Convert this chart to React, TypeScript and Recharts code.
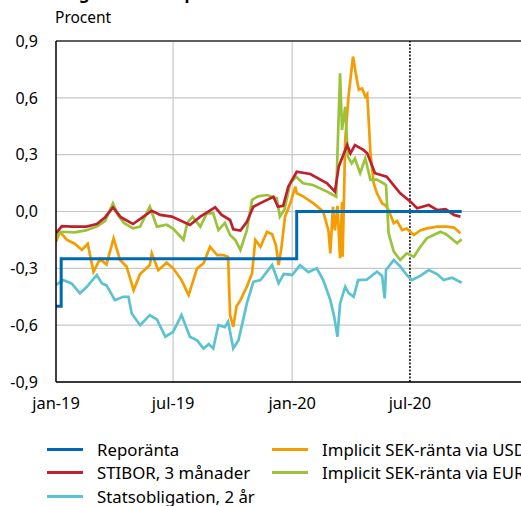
import React from "react";
import { CartesianGrid, Line, LineChart, ReferenceLine, XAxis, YAxis } from "recharts";

// days since 2019-01-01
const repoDays = [0, 8, 372, 627];
const repoValues = [-0.5, -0.25, 0, 0];

const stiborDays = [0, 9, 25, 47, 63, 76, 88, 100, 119, 134, 148, 161, 179, 207, 223, 246, 256, 269, 274, 285, 295, 305, 315, 336, 343, 351, 359, 372, 393, 419, 431, 437, 450, 455, 462, 475, 481, 493, 511, 532, 548, 558, 576, 589, 602, 615, 625];
const stiborValues = [-0.114, -0.077, -0.08, -0.08, -0.066, -0.03, 0.022, -0.03, -0.066, -0.03, 0.004, -0.018, -0.027, -0.071, -0.027, 0.022, -0.018, -0.045, -0.094, -0.101, -0.054, 0.025, 0.043, 0.078, 0.025, 0.03, 0.131, 0.21, 0.198, 0.149, 0.105, 0.237, 0.351, 0.307, 0.351, 0.325, 0.307, 0.202, 0.184, 0.096, 0.052, 0.017, 0.034, 0.008, 0.012, -0.018, -0.027];

const bondDays = [0, 11, 24, 37, 47, 63, 71, 78, 91, 104, 112, 117, 130, 145, 156, 169, 181, 194, 207, 218, 228, 236, 243, 251, 261, 266, 274, 282, 295, 305, 316, 334, 344, 352, 365, 377, 390, 403, 413, 424, 430, 435, 439, 447, 452, 460, 467, 480, 496, 504, 508, 510, 522, 532, 542, 550, 563, 576, 589, 599, 612, 627];
const bondValues = [-0.388, -0.362, -0.38, -0.432, -0.4, -0.335, -0.38, -0.39, -0.468, -0.45, -0.45, -0.538, -0.6, -0.547, -0.57, -0.661, -0.635, -0.547, -0.661, -0.68, -0.723, -0.7, -0.723, -0.6, -0.61, -0.582, -0.723, -0.68, -0.485, -0.371, -0.362, -0.283, -0.379, -0.33, -0.335, -0.283, -0.32, -0.3, -0.362, -0.468, -0.556, -0.661, -0.485, -0.397, -0.43, -0.45, -0.362, -0.36, -0.318, -0.34, -0.459, -0.309, -0.256, -0.29, -0.335, -0.362, -0.34, -0.309, -0.33, -0.362, -0.35, -0.376];

const usdDays = [0, 6, 17, 29, 40, 49, 58, 68, 78, 89, 99, 109, 120, 130, 145, 148, 158, 171, 181, 194, 205, 218, 228, 238, 249, 259, 266, 269, 274, 279, 285, 295, 303, 308, 316, 326, 334, 340, 344, 348, 354, 362, 370, 372, 382, 398, 413, 421, 424, 428, 431, 435, 439, 442, 443, 447, 452, 459, 465, 468, 473, 478, 481, 486, 491, 496, 504, 510, 514, 522, 527, 535, 542, 553, 563, 573, 589, 604, 615, 625];
const usdValues = [-0.16, -0.107, -0.15, -0.17, -0.203, -0.17, -0.318, -0.25, -0.28, -0.142, -0.256, -0.29, -0.415, -0.33, -0.283, -0.221, -0.31, -0.27, -0.3, -0.362, -0.441, -0.3, -0.274, -0.186, -0.23, -0.23, -0.24, -0.547, -0.609, -0.5, -0.468, -0.397, -0.327, -0.15, -0.186, -0.107, -0.12, -0.18, -0.283, -0.2, -0.027, 0.043, 0.131, 0.096, 0.08, 0.043, 0, -0.1, -0.221, 0.025, -0.1, 0.03, -0.247, 0.05, -0.239, 0.378, 0.606, 0.818, 0.695, 0.642, 0.65, 0.606, 0.62, 0.307, 0.149, 0.096, 0.043, 0.03, 0.008, -0.062, -0.05, -0.098, -0.09, -0.124, -0.1, -0.089, -0.08, -0.08, -0.085, -0.115];

const eurDays = [0, 9, 29, 46, 63, 76, 88, 96, 105, 119, 130, 145, 156, 171, 181, 197, 203, 211, 223, 233, 243, 251, 261, 269, 277, 285, 295, 303, 312, 326, 341, 346, 353, 362, 371, 382, 397, 419, 433, 435, 439, 442, 447, 451, 457, 462, 470, 478, 486, 495, 506, 510, 514, 522, 532, 542, 553, 563, 573, 594, 603, 620, 627];
const eurValues = [-0.13, -0.107, -0.11, -0.1, -0.08, -0.05, 0.043, -0.02, -0.06, -0.089, -0.08, 0.025, -0.08, -0.07, -0.09, -0.15, -0.06, -0.027, -0.08, -0.01, -0.01, -0.098, -0.06, -0.124, -0.15, -0.203, -0.098, 0.061, 0.08, 0.087, 0.07, -0.027, 0.01, 0.149, 0.184, 0.149, 0.14, 0.105, 0.078, 0.307, 0.73, 0.43, 0.553, 0.29, 0.254, 0.28, 0.202, 0.281, 0.166, 0.17, 0.149, 0.14, -0.115, -0.212, -0.256, -0.221, -0.239, -0.186, -0.142, -0.107, -0.12, -0.168, -0.147];

const xTicks = [0, 181, 365, 547];
const xTickLabels = ["jan-19", "jul-19", "jan-20", "jul-20"];
const yTicks = [-0.9, -0.6, -0.3, 0, 0.3, 0.6, 0.9];

const toPoints = (days: number[], values: number[]) => days.map((d, i) => ({ d, v: values[i] }));

const series = [
  { name: "Reporänta", color: "#0069B4", data: toPoints(repoDays, repoValues), step: true, col: 0, row: 0 },
  { name: "STIBOR, 3 månader", color: "#C0202E", data: toPoints(stiborDays, stiborValues), step: false, col: 0, row: 1 },
  { name: "Statsobligation, 2 år", color: "#5BC2D2", data: toPoints(bondDays, bondValues), step: false, col: 0, row: 2 },
  { name: "Implicit SEK-ränta via USD", color: "#F59C00", data: toPoints(usdDays, usdValues), step: false, col: 1, row: 0 },
  { name: "Implicit SEK-ränta via EUR", color: "#9BC33A", data: toPoints(eurDays, eurValues), step: false, col: 1, row: 1 },
];

const font = "'Noto Sans', sans-serif";
const drawOrder = [2, 3, 4, 1, 0];

export default function App() {
  return (
    <div style={{ position: "absolute", left: 0, top: 0, width: 521, height: 506, overflow: "hidden", background: "#fff", fontFamily: font }}>
      <svg width={521} height={10} style={{ position: "absolute", left: 0, top: 0 }}>
        <text x={52} y={-1} fontSize={16.5} fontWeight="bold" fill="#000" fontFamily={font}>
          Diagram 2.12 Reporänta och marknadsräntor
        </text>
      </svg>
      <div style={{ position: "absolute", left: 55, top: 6, fontSize: 15.5, color: "#000" }}>Procent</div>
      <LineChart width={540} height={420} margin={{ top: 41, right: 11, left: 0, bottom: 8 }} style={{ position: "absolute", left: 0, top: 0 }}>
        <CartesianGrid vertical={false} stroke="#c8c8c8" strokeWidth={1.2} />
        <XAxis
          type="number"
          dataKey="d"
          domain={[0, 731]}
          ticks={xTicks}
          tickFormatter={(v: number) => xTickLabels[xTicks.indexOf(v)]}
          height={30}
          tickLine={false}
          tickSize={0}
          tickMargin={15}
          stroke="#000"
          strokeWidth={1.5}
          tick={{ fill: "#000", fontSize: 16.4, fontFamily: font }}
          allowDataOverflow
        />
        <YAxis
          type="number"
          domain={[-0.9, 0.9]}
          ticks={yTicks}
          tickFormatter={(v: number) => v.toFixed(1).replace(".", ",").replace("-0,0", "0,0")}
          width={56}
          tickLine={false}
          tickSize={0}
          tickMargin={18}
          stroke="#000"
          strokeWidth={1.5}
          tick={{ fill: "#000", fontSize: 16, fontFamily: font }}
          allowDataOverflow
        />
        <ReferenceLine x={181} stroke="#c8c8c8" strokeWidth={1.2} />
        <ReferenceLine x={365} stroke="#c8c8c8" strokeWidth={1.2} />
        <ReferenceLine y={0.9} stroke="#333" strokeWidth={1.5} />
        <ReferenceLine x={547} stroke="#000" strokeWidth={1.5} strokeDasharray="2 1.5" />
        {drawOrder.map((i) => {
          const s = series[i];
          return (
            <Line
              key={s.name}
              data={s.data}
              dataKey="v"
              name={s.name}
              type={s.step ? "stepAfter" : "linear"}
              stroke={s.color}
              strokeWidth={s.step ? 3 : 2.7}
              dot={false}
              isAnimationActive={false}
            />
          );
        })}
      </LineChart>
      {series.map((s) => (
        <div
          key={s.name}
          style={{ position: "absolute", left: s.col === 0 ? 47 : 272, top: 438 + s.row * 23.5, height: 22, display: "flex", alignItems: "center", whiteSpace: "nowrap", fontSize: 16.8, color: "#000" }}
        >
          <span style={{ display: "inline-block", width: 36, height: 3, background: s.color, marginRight: 14 }} />
          {s.name}
        </div>
      ))}
    </div>
  );
}
